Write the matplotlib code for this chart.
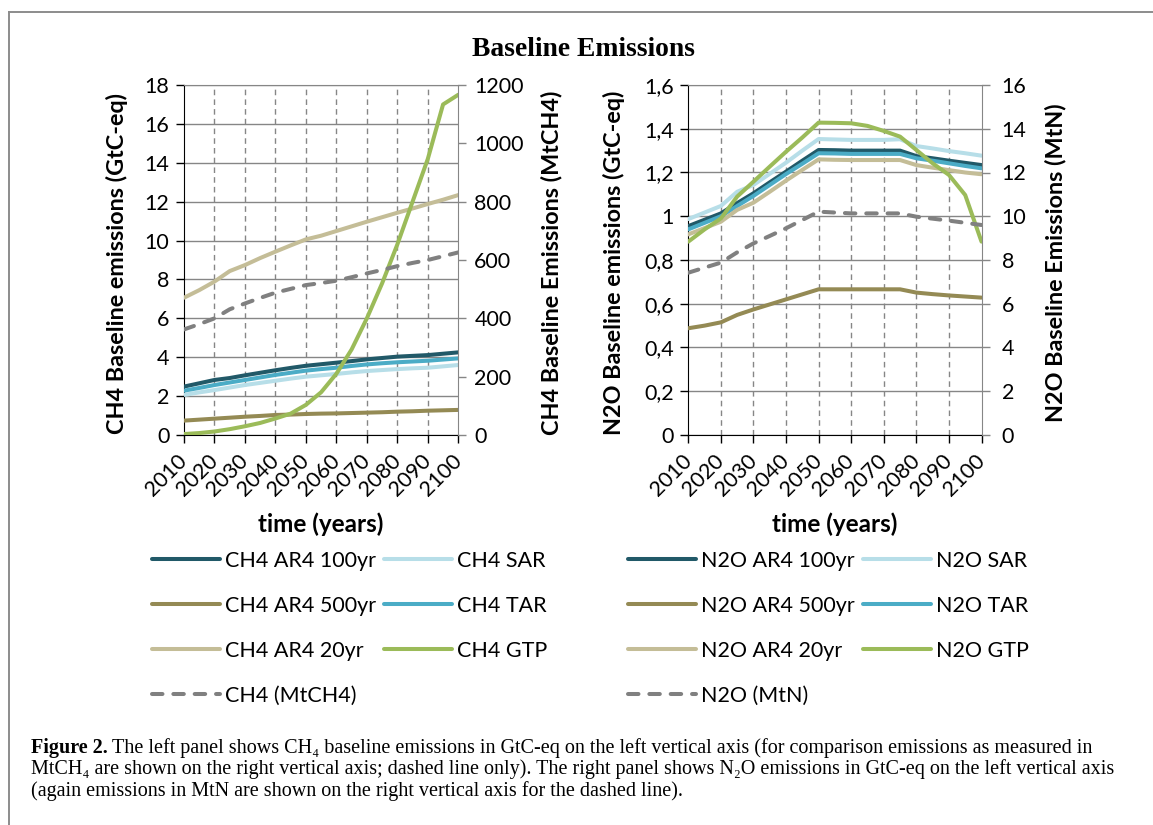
import matplotlib
matplotlib.use('Agg')
import matplotlib.pyplot as plt
from matplotlib.lines import Line2D
from matplotlib.ticker import FuncFormatter, MultipleLocator

plt.rcParams['font.family'] = ['Lato', 'DejaVu Sans']

# ---- data, every 5 years 2010..2100 ----
years = list(range(2010, 2101, 5))

ch4_ar4_100 = [2.49, 2.66, 2.83, 2.93, 3.07, 3.20, 3.33, 3.45, 3.56, 3.64, 3.72, 3.80, 3.89, 3.96, 4.03, 4.07, 4.11, 4.18, 4.25]
ch4_sar = [2.06, 2.19, 2.31, 2.44, 2.57, 2.68, 2.79, 2.90, 3.00, 3.07, 3.14, 3.22, 3.29, 3.34, 3.39, 3.43, 3.46, 3.53, 3.60]
ch4_ar4_500 = [0.74, 0.79, 0.84, 0.89, 0.94, 0.98, 1.03, 1.05, 1.08, 1.10, 1.11, 1.13, 1.15, 1.17, 1.20, 1.22, 1.25, 1.27, 1.29]
ch4_tar = [2.28, 2.42, 2.57, 2.70, 2.83, 2.96, 3.09, 3.20, 3.31, 3.39, 3.46, 3.55, 3.63, 3.69, 3.74, 3.78, 3.82, 3.88, 3.94]
ch4_ar4_20 = [7.06, 7.45, 7.89, 8.43, 8.74, 9.10, 9.43, 9.75, 10.06, 10.25, 10.49, 10.73, 10.97, 11.20, 11.43, 11.65, 11.88, 12.10, 12.34]
ch4_gtp = [0.05, 0.10, 0.18, 0.30, 0.45, 0.62, 0.85, 1.10, 1.55, 2.20, 3.15, 4.40, 6.00, 7.80, 9.80, 12.00, 14.20, 17.00, 17.50]
ch4_mt = [362, 380, 400, 431, 451, 470, 488, 501, 514, 521, 529, 541, 554, 566, 579, 590, 600, 613, 626]

n2o_ar4_100 = [0.955, 0.984, 1.013, 1.060, 1.105, 1.155, 1.204, 1.254, 1.303, 1.302, 1.300, 1.300, 1.300, 1.300, 1.275, 1.265, 1.254, 1.244, 1.234]
n2o_sar = [0.987, 1.017, 1.047, 1.112, 1.143, 1.194, 1.245, 1.300, 1.353, 1.351, 1.349, 1.349, 1.349, 1.352, 1.321, 1.310, 1.298, 1.288, 1.277]
n2o_ar4_500 = [0.488, 0.500, 0.515, 0.549, 0.574, 0.597, 0.620, 0.643, 0.666, 0.666, 0.666, 0.666, 0.666, 0.666, 0.651, 0.644, 0.638, 0.633, 0.628]
n2o_tar = [0.940, 0.970, 1.000, 1.047, 1.093, 1.143, 1.193, 1.240, 1.288, 1.287, 1.285, 1.285, 1.285, 1.285, 1.265, 1.254, 1.242, 1.230, 1.219]
n2o_ar4_20 = [0.917, 0.946, 0.975, 1.029, 1.062, 1.112, 1.163, 1.212, 1.260, 1.258, 1.257, 1.257, 1.257, 1.257, 1.234, 1.222, 1.211, 1.200, 1.192]
n2o_gtp = [0.884, 0.940, 0.990, 1.090, 1.158, 1.227, 1.295, 1.360, 1.428, 1.427, 1.425, 1.413, 1.390, 1.364, 1.303, 1.242, 1.189, 1.097, 0.884]
n2o_mt = [7.42, 7.65, 7.88, 8.35, 8.76, 9.10, 9.45, 9.83, 10.21, 10.17, 10.13, 10.13, 10.13, 10.13, 9.98, 9.89, 9.80, 9.70, 9.60]

colors = ['#215968', '#B7DEE8', '#948A54', '#4BACC6', '#C4BD97', '#9BBB59']
names = ['AR4 100yr', 'SAR', 'AR4 500yr', 'TAR', 'AR4 20yr', 'GTP']
dash_color = '#808080'
grid_color = '#868686'

fig = plt.figure(figsize=(11.53, 8.25), dpi=100)
W, H = 1153, 825

def px(x0, y0, x1, y1):
    return [x0 / W, 1 - y1 / H, (x1 - x0) / W, (y1 - y0) / H]

def panel(rect, gas, series, mt, mt_label, ymax, ystep, y2max, y2step, fmt,
          ylabel, y2label, ylab_x, y2lab_x, pad2, leg_x):
    ax = fig.add_axes(px(*rect))
    ax2 = ax.twinx()
    handles = []
    for vals, c, n in zip(series, colors, names):
        h, = ax.plot(years, vals, color=c, lw=2.9, solid_joinstyle='round',
                     solid_capstyle='round', label=f'{gas} {n}', zorder=3)
        handles.append(h)
    hd, = ax2.plot(years, mt, color=dash_color, lw=2.9, dashes=(2.6, 2.7),
                   dash_capstyle='round', label=f'{gas} ({mt_label})')
    ax.set_xlim(2010, 2100)
    ax.set_ylim(0, ymax)
    ax2.set_ylim(0, y2max)
    ax.set_xticks(range(2010, 2101, 10))
    ax.yaxis.set_major_locator(MultipleLocator(ystep))
    ax2.yaxis.set_major_locator(MultipleLocator(y2step))
    ax.yaxis.set_major_formatter(FuncFormatter(fmt))
    ax.set_xticklabels([str(y) for y in range(2010, 2101, 10)], rotation=45,
                       ha='right', va='center', rotation_mode='anchor')
    ax.grid(axis='y', color=grid_color, lw=1.0, zorder=0)
    for xv in range(2020, 2100, 10):
        ax.axvline(xv, color=grid_color, lw=1.0, ls=(0, (4, 3)), zorder=0)
    ax.set_axisbelow(True)
    ax.spines['top'].set_color(grid_color)
    ax.spines['right'].set_visible(False)
    ax2.spines['top'].set_visible(False)
    ax2.spines['left'].set_visible(False)
    ax2.spines['bottom'].set_visible(False)
    ax2.spines['right'].set_color(grid_color)
    ax.tick_params(axis='both', labelsize=15.5, length=5.5, width=1.0, direction='out')
    ax.tick_params(axis='y', pad=5)
    ax.tick_params(axis='x', pad=11)
    ax2.tick_params(axis='y', labelsize=15.5, length=5.5, width=1.0, color=grid_color, pad=pad2)
    ax.set_xlabel('time (years)', fontsize=17.5, fontweight='bold', labelpad=9)
    fig.text(ylab_x / W, 1 - 263 / H, ylabel, rotation=90, fontsize=16.8,
             fontweight='bold', ha='center', va='center')
    fig.text(y2lab_x / W, 1 - 263 / H, y2label, rotation=90, fontsize=16.8,
             fontweight='bold', ha='center', va='center')
    order = [handles[0], handles[2], handles[4], hd, handles[1], handles[3], handles[5]]
    leg = fig.legend(order, [h.get_label() for h in order], loc='upper left',
                     bbox_to_anchor=(leg_x / W, 1 - 551 / H), ncol=2, frameon=False,
                     fontsize=15.5, handlelength=3.16, handletextpad=0.23,
                     columnspacing=0.37, labelspacing=1.16, borderpad=0,
                     borderaxespad=0)
    for lh in leg.get_lines():
        lh.set_solid_capstyle('round')
    return ax, ax2

panel((184, 85, 458.3, 435), 'CH4',
      [ch4_ar4_100, ch4_sar, ch4_ar4_500, ch4_tar, ch4_ar4_20, ch4_gtp],
      ch4_mt, 'MtCH4', 18, 2, 1200, 200, lambda v, p: f'{v:g}',
      'CH4 Baseline emissions (GtC-eq)', 'CH4 Baseline Emissions (MtCH4)',
      117, 551, 6, 152)

panel((688.3, 85, 981.5, 435), 'N2O',
      [n2o_ar4_100, n2o_sar, n2o_ar4_500, n2o_tar, n2o_ar4_20, n2o_gtp],
      n2o_mt, 'MtN', 1.6, 0.2, 16, 2, lambda v, p: f'{round(v, 1):g}'.replace('.', ','),
      'N2O Baseline emissions (GtC-eq)', 'N2O Baseline Emissions (MtN)',
      614, 1056, 9, 628)

serif = ['Liberation Serif', 'DejaVu Serif']
fig.text(583 / W, 1 - 49 / H, 'Baseline Emissions', family=serif,
         fontweight='bold', fontsize=19.9, ha='center', va='center')

# frame of the figure box
fig.add_artist(Line2D([9 / W, 1], [1 - 12 / H, 1 - 12 / H], color='#8c8c8c', lw=1.4))
fig.add_artist(Line2D([9 / W, 9 / W], [0, 1 - 12 / H], color='#8c8c8c', lw=1.4))

caption = [
    'The left panel shows CH\u2084 baseline emissions in GtC-eq on the left vertical axis (for comparison emissions as measured in',
    'MtCH\u2084 are shown on the right vertical axis; dashed line only). The right panel shows N\u2082O emissions in GtC-eq on the left vertical axis',
    '(again emissions in MtN are shown on the right vertical axis for the dashed line).',
]
lab = fig.text(31 / W, 1 - 748 / H, 'Figure 2.', family=serif, fontweight='bold',
               fontsize=14.5, ha='left', va='center')
bb = lab.get_window_extent(renderer=fig.canvas.get_renderer())
for i, line in enumerate(caption):
    x0 = (bb.x1 + 4) / W if i == 0 else 31 / W
    fig.text(x0, 1 - (748 + 21.5 * i) / H, line, family=serif,
             fontsize=14.5, ha='left', va='center')

fig.savefig('out.png', dpi=100)
